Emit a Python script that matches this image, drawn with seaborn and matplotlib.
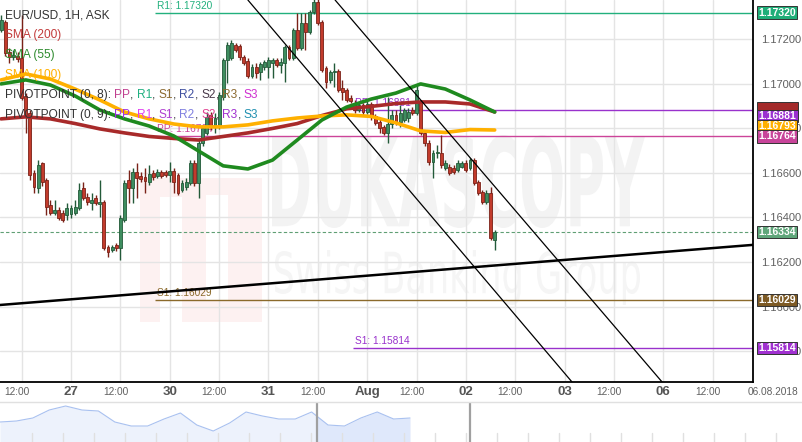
import numpy as np
import pandas as pd
import matplotlib
matplotlib.use("Agg")
import matplotlib.pyplot as plt
import matplotlib.transforms as mtransforms
from matplotlib.textpath import TextPath
from matplotlib.patches import PathPatch, Rectangle
from matplotlib.font_manager import FontProperties
import seaborn as sns

# hourly candles, hour 0 = 27 Jul 00:00 (weekend gap removed)
hours = list(range(-17, 104))
opens = [1.17242, 1.17278, 1.17143, 1.17121, 1.17126, 1.17117, 1.16946, 1.16870, 1.16600, 1.16533,
         1.16645, 1.16569, 1.16456, 1.16420, 1.16434, 1.16420, 1.16411, 1.16416, 1.16420, 1.16443,
         1.16533, 1.16492, 1.16465, 1.16488, 1.16461, 1.16470, 1.16268, 1.16254, 1.16277, 1.16263,
         1.16389, 1.16569, 1.16533, 1.16605, 1.16587, 1.16582, 1.16560, 1.16600, 1.16587, 1.16605,
         1.16605, 1.16591, 1.16609, 1.16591, 1.16524, 1.16537, 1.16555, 1.16645, 1.16555, 1.16735,
         1.16780, 1.16861, 1.16807, 1.16807, 1.16941, 1.17108, 1.17117, 1.17175, 1.17170, 1.17121,
         1.17103, 1.17036, 1.17076, 1.17054, 1.17076, 1.17076, 1.17094, 1.17108, 1.17085, 1.17094,
         1.17166, 1.17117, 1.17242, 1.17161, 1.17274, 1.17233, 1.17323, 1.17368, 1.17278, 1.17072,
         1.17018, 1.17054, 1.17058, 1.16982, 1.16973, 1.16937, 1.16910, 1.16883, 1.16905, 1.16874,
         1.16910, 1.16856, 1.16829, 1.16807, 1.16780, 1.16820, 1.16861, 1.16829, 1.16838, 1.16847,
         1.16883, 1.16870, 1.16919, 1.16780, 1.16735, 1.16649, 1.16690, 1.16690, 1.16622, 1.16627,
         1.16622, 1.16613, 1.16627, 1.16645, 1.16622, 1.16658, 1.16560, 1.16515, 1.16470, 1.16510,
         1.16299]
highs = [1.17310, 1.17287, 1.17161, 1.17152, 1.17143, 1.17310, 1.16959, 1.16883, 1.16613, 1.16658,
         1.16649, 1.16578, 1.16479, 1.16479, 1.16447, 1.16434, 1.16465, 1.16456, 1.16479, 1.16555,
         1.16560, 1.16510, 1.16510, 1.16501, 1.16569, 1.16479, 1.16277, 1.16277, 1.16286, 1.16411,
         1.16569, 1.16613, 1.16622, 1.16645, 1.16605, 1.16622, 1.16636, 1.16613, 1.16618, 1.16613,
         1.16613, 1.16649, 1.16622, 1.16600, 1.16569, 1.16578, 1.16658, 1.16658, 1.16748, 1.16816,
         1.16874, 1.16874, 1.16870, 1.16964, 1.17117, 1.17188, 1.17197, 1.17184, 1.17179, 1.17130,
         1.17117, 1.17090, 1.17094, 1.17099, 1.17108, 1.17121, 1.17117, 1.17117, 1.17117, 1.17175,
         1.17175, 1.17251, 1.17319, 1.17319, 1.17319, 1.17332, 1.17390, 1.17390, 1.17287, 1.17081,
         1.17063, 1.17094, 1.17067, 1.17018, 1.16982, 1.16950, 1.16928, 1.16914, 1.16914, 1.16928,
         1.16919, 1.16865, 1.16843, 1.16816, 1.16941, 1.16883, 1.16883, 1.16905, 1.16892, 1.16892,
         1.16896, 1.16995, 1.16928, 1.16793, 1.16748, 1.16703, 1.16726, 1.16771, 1.16658, 1.16640,
         1.16636, 1.16658, 1.16654, 1.16658, 1.16667, 1.16667, 1.16569, 1.16524, 1.16524, 1.16537,
         1.16344]
lows = [1.17233, 1.17126, 1.17094, 1.17108, 1.17099, 1.16928, 1.16780, 1.16569, 1.16510, 1.16510,
        1.16542, 1.16411, 1.16411, 1.16411, 1.16389, 1.16380, 1.16389, 1.16398, 1.16411, 1.16434,
        1.16479, 1.16456, 1.16434, 1.16456, 1.16402, 1.16254, 1.16223, 1.16245, 1.16250, 1.16209,
        1.16380, 1.16465, 1.16465, 1.16488, 1.16560, 1.16510, 1.16546, 1.16569, 1.16578, 1.16578,
        1.16582, 1.16560, 1.16510, 1.16501, 1.16515, 1.16524, 1.16546, 1.16542, 1.16488, 1.16721,
        1.16771, 1.16793, 1.16780, 1.16798, 1.16928, 1.17004, 1.17108, 1.17143, 1.17108, 1.17085,
        1.17027, 1.17027, 1.17027, 1.17018, 1.17063, 1.17027, 1.17027, 1.17076, 1.17049, 1.17009,
        1.17108, 1.17108, 1.17152, 1.17152, 1.17152, 1.17224, 1.17314, 1.17265, 1.17054, 1.16982,
        1.17004, 1.16986, 1.16964, 1.16928, 1.16919, 1.16914, 1.16870, 1.16874, 1.16861, 1.16865,
        1.16838, 1.16816, 1.16780, 1.16771, 1.16735, 1.16802, 1.16816, 1.16807, 1.16829, 1.16829,
        1.16861, 1.16861, 1.16771, 1.16721, 1.16636, 1.16578, 1.16667, 1.16622, 1.16613, 1.16591,
        1.16596, 1.16605, 1.16622, 1.16605, 1.16613, 1.16546, 1.16501, 1.16461, 1.16461, 1.16299,
        1.16254]
closes = [1.17287, 1.17139, 1.17121, 1.17130, 1.17112, 1.16937, 1.16861, 1.16591, 1.16537, 1.16636,
          1.16560, 1.16447, 1.16420, 1.16434, 1.16398, 1.16389, 1.16443, 1.16443, 1.16447, 1.16524,
          1.16488, 1.16470, 1.16479, 1.16465, 1.16470, 1.16263, 1.16245, 1.16268, 1.16263, 1.16398,
          1.16555, 1.16533, 1.16605, 1.16578, 1.16573, 1.16564, 1.16596, 1.16582, 1.16605, 1.16587,
          1.16591, 1.16609, 1.16560, 1.16510, 1.16555, 1.16560, 1.16645, 1.16555, 1.16735, 1.16802,
          1.16852, 1.16807, 1.16847, 1.16950, 1.17108, 1.17175, 1.17184, 1.17152, 1.17121, 1.17094,
          1.17036, 1.17076, 1.17049, 1.17090, 1.17099, 1.17108, 1.17108, 1.17085, 1.17099, 1.17166,
          1.17117, 1.17242, 1.17161, 1.17274, 1.17233, 1.17323, 1.17368, 1.17274, 1.17063, 1.17009,
          1.17054, 1.17058, 1.16973, 1.16964, 1.16928, 1.16923, 1.16883, 1.16905, 1.16874, 1.16910,
          1.16856, 1.16825, 1.16802, 1.16780, 1.16820, 1.16861, 1.16829, 1.16870, 1.16883, 1.16874,
          1.16870, 1.16973, 1.16780, 1.16735, 1.16649, 1.16690, 1.16694, 1.16636, 1.16645, 1.16600,
          1.16605, 1.16645, 1.16645, 1.16613, 1.16658, 1.16555, 1.16510, 1.16470, 1.16510, 1.16308,
          1.16334]

# moving averages
sma_hours = [-17, -11, -5, 1, 7, 13, 19, 25, 31, 37, 43, 49, 55, 61, 67, 73, 79, 85, 91, 97, 103]
sma55 = [1.17000, 1.17018, 1.16995, 1.16946, 1.16883, 1.16843, 1.16811, 1.16766, 1.16699, 1.16632, 1.16618,
         1.16658, 1.16748, 1.16838, 1.16896, 1.16932, 1.16959, 1.17000, 1.16977, 1.16928, 1.16874]
sma100 = [1.17018, 1.17045, 1.17022, 1.16977, 1.16928, 1.16874, 1.16843, 1.16820, 1.16807, 1.16807, 1.16816,
          1.16834, 1.16847, 1.16856, 1.16861, 1.16854, 1.16825, 1.16789, 1.16782, 1.16795, 1.16793]
sma200 = [1.16843, 1.16852, 1.16843, 1.16822, 1.16798, 1.16780, 1.16764, 1.16755, 1.16748, 1.16764, 1.16780,
          1.16800, 1.16822, 1.16858, 1.16888, 1.16899, 1.16912, 1.16919, 1.16919, 1.16910, 1.16874]

# pivot levels
pivot_labels = ["R1: 1.17320", "PP: 1.16764", "S1: 1.16029", "PP: 1.16881", "S1: 1.15814"]
pivot_levels = [1.17320, 1.16764, 1.16029, 1.16881, 1.15814]
pivot_start = [20.5, 20.5, 20.5, 68.5, 68.5]
pivot_colors = ["#22b07d", "#cc4499", "#8b6a2b", "#9932cc", "#9932cc"]

# drawn trend lines (two points each, hours / price)
channel_lower = [(43.0, 1.17377), (121.8, 1.15661)]
channel_upper = [(64.2, 1.17377), (143.7, 1.15661)]
support_line = [(-17.26, 1.16007), (165.8, 1.16277)]
last_price = 1.16334

# price tags on the right axis (first one is hidden under the second)
tag_text = ["1.16882", "1.16881", "1.16793", "1.16764", "1.17320", "1.16334", "1.16029", "1.15814"]
tag_pos = [1.16890, 1.16856, 1.16812, 1.16764, 1.17320, 1.16334, 1.16029, 1.15814]
tag_colors = ["#a32a2a", "#9b30d0", "#ffb000", "#c8449a", "#1fae78", "#5fa67a", "#7d5a24", "#a030d0"]
tag_text_colors = ["#a32a2a", "white", "white", "white", "white", "white", "white", "white"]

# x axis labels
tick_hours = [-12, 0, 12, 24, 36, 48, 60, 72, 84, 96, 108, 120, 132, 144, 156]
tick_labels = ["12:00", "27", "12:00", "30", "12:00", "31", "12:00", "Aug",
               "12:00", "02", "12:00", "03", "12:00", "06", "12:00"]

# navigator series
nav_idx = list(range(26))
nav_vals = [1.1650, 1.16575, 1.1680, 1.1740, 1.1770, 1.1740, 1.17325, 1.1650, 1.1620, 1.1620,
            1.16725, 1.17175, 1.16275, 1.15825, 1.16425, 1.1725, 1.1695, 1.16725, 1.16725, 1.1725,
            1.16275, 1.1620, 1.1680, 1.1725, 1.16725, 1.1680]

sns.set_theme(style="white")
plt.rcParams["font.family"] = ["Liberation Sans", "DejaVu Sans"]

fig = plt.figure(figsize=(8.03, 4.42), dpi=100)
ax = fig.add_axes([0, 60 / 442, 753 / 803, 382 / 442])
ax.set_xlim(-17.26, 165.8)
ax.set_ylim(1.15661, 1.17377)

ax.set_xticks(tick_hours)
ax.set_xticklabels([])
ax.set_yticks([1.158, 1.160, 1.162, 1.164, 1.166, 1.168, 1.170, 1.172])
ax.set_yticklabels([f"{v:.5f}" for v in ax.get_yticks()])
ax.yaxis.tick_right()
ax.tick_params(axis="y", length=0, pad=6, labelsize=8, labelcolor="#606060")
ax.tick_params(axis="x", length=0)
ax.grid(True, color="#e4e4e4", lw=1)
ax.set_axisbelow(True)
for s in ["left", "top"]:
    ax.spines[s].set_visible(False)
for s in ["right", "bottom"]:
    ax.spines[s].set_color("black")
    ax.spines[s].set_linewidth(1.3)

# watermark
def watermark(text, x0, y0, w, h, color, weight="bold"):
    tp = TextPath((0, 0), text, size=1, prop=FontProperties(family="DejaVu Sans", weight=weight))
    ext = tp.get_extents()
    tr = (mtransforms.Affine2D().translate(-ext.x0, -ext.y0)
          .scale(w / ext.width, h / ext.height).translate(x0, y0))
    ax.add_patch(PathPatch(tr.transform_path(tp), transform=ax.transAxes,
                           fc=color, ec="none", zorder=0.5))

ax.add_patch(Rectangle((140 / 753, 1 - 322 / 382), 122 / 753, 144 / 382,
                       transform=ax.transAxes, fc="#fdf1f1", ec="none", zorder=0.4))
ax.add_patch(Rectangle((160 / 753, 1 - 322 / 382), 22 / 753, 125 / 382,
                       transform=ax.transAxes, fc="white", ec="none", zorder=0.45))
ax.add_patch(Rectangle((206 / 753, 1 - 300 / 382), 22 / 753, 105 / 382,
                       transform=ax.transAxes, fc="white", ec="none", zorder=0.45))
watermark("DUKASCOPY", 272 / 753, 1 - 228 / 382, 373 / 753, 93 / 382, "#f3f3f3")
watermark("Swiss Banking Group", 275 / 753, 1 - 305 / 382, 365 / 753, 55 / 382, "#f5f5f5", weight="normal")

# pivot lines + labels
for lab, lvl, st, col in zip(pivot_labels, pivot_levels, pivot_start, pivot_colors):
    ax.hlines(lvl, st, 170, color=col, lw=1, zorder=2)
    ax.annotate(lab, xy=(st + 0.5, lvl), xytext=(0, 1.5), textcoords="offset points",
                color=col, fontsize=7.3, va="bottom", ha="left", zorder=2.5)

ax.axhline(last_price, color="#5f9f74", lw=0.8, ls=(0, (3, 2)), zorder=2)

# candles
df = pd.DataFrame({"hour": hours, "open": opens, "high": highs, "low": lows, "close": closes})
up = df["close"] >= df["open"]
body_col = np.where(up, "#3e8d5f", "#c23b2c")
edge_col = np.where(up, "#235a39", "#7a2218")
ax.vlines(df["hour"], df["low"], df["high"], colors=edge_col, lw=1, zorder=3)
body_h = np.maximum((df["close"] - df["open"]).abs(), 0.00003)
ax.bar(df["hour"], body_h, bottom=np.minimum(df["open"], df["close"]), width=0.7,
       color=body_col, edgecolor=edge_col, lw=0.6, zorder=4)

# moving averages
sns.lineplot(x=sma_hours, y=sma200, ax=ax, color="#a82a2a", lw=2.6, zorder=5)
sns.lineplot(x=sma_hours, y=sma100, ax=ax, color="#ffb000", lw=2.6, zorder=5)
sns.lineplot(x=sma_hours, y=sma55, ax=ax, color="#1f8a1f", lw=2.6, zorder=5)

# drawn lines
ax.axline(channel_lower[0], channel_lower[1], color="black", lw=0.9, zorder=6)
ax.axline(channel_upper[0], channel_upper[1], color="black", lw=0.9, zorder=6)
ax.axline(support_line[0], support_line[1], color="black", lw=1.8, zorder=6)

ax.set_xlim(-17.26, 165.8)
ax.set_ylim(1.15661, 1.17377)
ax.set_xlabel("")
ax.set_ylabel("")

# legend block
def colored_line(y, parts, size=8.6):
    t = ax.text(5 / 753, y, parts[0][0], color=parts[0][1], transform=ax.transAxes,
                fontsize=size, va="center", ha="left", zorder=8)
    for s, c in parts[1:]:
        t = ax.annotate(s, xy=(1, 0), xycoords=t, va="bottom", ha="left",
                        color=c, fontsize=size, zorder=8)

dk = "#333333"
colored_line(1 - 15 / 382, [("EUR/USD, 1H, ASK", dk)])
colored_line(1 - 35 / 382, [("SMA (200)", "#c23b3b")])
colored_line(1 - 55 / 382, [("SMA (55)", "#2e8b2e")])
colored_line(1 - 75 / 382, [("SMA (100)", "#ffb000")])
p8 = [("PP", "#c04090"), ("R1", "#20b080"), ("S1", "#8c6a30"), ("R2", "#4050a0"),
      ("S2", "#4a3a4a"), ("R3", "#8c6a30"), ("S3", "#d030d0")]
p9 = [("PP", "#a030e0"), ("R1", "#e040f0"), ("S1", "#b040d0"), ("R2", "#8080e0"),
      ("S2", "#e04090"), ("R3", "#a030d0"), ("S3", "#2090b0")]
for y, head, pp in [(1 - 95 / 382, "PIVOTPOINT (0, 8): ", p8), (1 - 115 / 382, "PIVOTPOINT (0, 9): ", p9)]:
    parts = [(head, dk)]
    for i, (s, c) in enumerate(pp):
        parts.append((s, c))
        if i < len(pp) - 1:
            parts.append((", ", dk))
    colored_line(y, parts)

# x labels
xtr = mtransforms.blended_transform_factory(ax.transData, ax.transAxes)
for h, lab in zip(tick_hours, tick_labels):
    if lab == "12:00":
        ax.text(h - 1.2, -10 / 382, lab, transform=xtr, ha="center", va="center",
                fontsize=7.3, color="#606060", clip_on=False)
    else:
        ax.text(h, -10 / 382, lab, transform=xtr, ha="center", va="center",
                fontsize=9.5, fontweight="bold", color="#555555", clip_on=False)
fig.text(773 / 803, 1 - 392 / 442, "06.08.2018", ha="center", va="center", fontsize=7.3, color="#606060")

# price tags
ytr = mtransforms.blended_transform_factory(ax.transAxes, ax.transData)
for i, (txt, pos, col, tcol) in enumerate(zip(tag_text, tag_pos, tag_colors, tag_text_colors)):
    ax.annotate(txt, xy=(1.0, pos), xycoords=ytr, xytext=(4, 0), textcoords="offset points",
                ha="left", va="center", fontsize=7.5, fontweight="bold", color=tcol,
                annotation_clip=False, zorder=10 + i,
                bbox=dict(boxstyle="square,pad=0.12", fc=col, ec="#333333", lw=0.7))

# navigator
nav = fig.add_axes([0, 0, 1, 40 / 442])
nav.set_xlim(0, 48.96)
nav.set_ylim(1.150, 1.180)
nav.fill_between(nav_idx, nav_vals, 1.150, color="#dfe8fb", lw=0)
sns.lineplot(x=nav_idx, y=nav_vals, ax=nav, color="#a9c1f0", lw=0.8)
nav.axvspan(0, 19.3, color="white", alpha=0.45, lw=0)
for k in np.arange(1.95, 49, 1.89):
    nav.axvline(k, ymin=0, ymax=0.22, color="#e0e0e0", lw=1)
nav.axvline(19.3, color="#a0a0a0", lw=1.6)
nav.axvline(28.66, color="#a0a0a0", lw=1.6)
nav.set_xticks([])
nav.set_yticks([])
nav.set_xlabel("")
nav.set_ylabel("")
for s in ["left", "right", "bottom"]:
    nav.spines[s].set_visible(False)
nav.spines["top"].set_color("#e0e0e0")
nav.spines["top"].set_linewidth(1)

fig.savefig("out.png", dpi=100)
